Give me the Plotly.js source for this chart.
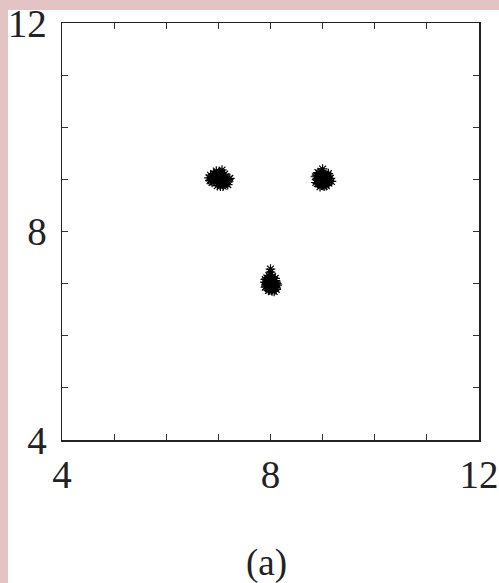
<!DOCTYPE html>
<html>
<head>
<meta charset="utf-8">
<script src="https://cdn.plot.ly/plotly-3.0.1.min.js"></script>
<style>
  html, body { margin: 0; padding: 0; }
  body { width: 499px; height: 583px; overflow: hidden; }
  #chart { width: 499px; height: 583px; }
</style>
</head>
<body>
<div id="chart"></div>
<script>
// Three clusters of samples: around (7, 9), (9, 9) and (8, 7)
const clusterAx = [7.00, 6.95, 7.05, 6.90, 7.10, 6.85, 7.15, 7.02, 6.98, 7.08, 6.92, 7.12, 6.88, 7.20, 6.82, 7.04,
                   6.96, 7.06, 6.94, 7.18, 7.00, 7.03, 6.97, 7.09, 6.91, 7.14, 6.86, 7.01, 6.99, 7.22, 6.84, 7.07,
                   7.11, 6.93, 7.05, 6.89];
const clusterAy = [9.00, 9.05, 8.95, 9.02, 8.98, 9.08, 8.92, 9.12, 8.88, 9.04, 8.96, 9.10, 8.94, 9.00, 9.03, 8.87,
                   9.16, 8.93, 9.07, 8.90, 9.03, 9.01, 8.99, 8.87, 9.11, 9.05, 8.97, 8.93, 9.06, 9.02, 8.98, 9.18,
                   8.91, 9.09, 9.13, 9.01];

const clusterBx = [9.00, 8.96, 9.04, 8.92, 9.08, 8.88, 9.12, 9.02, 8.98, 9.06, 8.94, 9.10, 8.90, 9.15, 8.86, 9.03,
                   8.97, 9.05, 8.95, 9.13, 9.00, 9.01, 8.99, 9.07, 8.93, 9.09, 8.87, 8.98, 9.02, 9.17, 8.92, 9.05,
                   8.95, 9.11, 9.03, 8.91];
const clusterBy = [9.00, 9.04, 8.96, 9.01, 8.99, 9.07, 8.93, 9.10, 8.89, 9.03, 8.95, 9.08, 8.92, 9.02, 9.05, 8.87,
                   9.14, 8.91, 9.06, 8.97, 9.20, 9.00, 8.98, 8.88, 9.12, 9.04, 8.94, 8.90, 9.09, 8.96, 9.01, 9.06,
                   8.86, 9.11, 8.93, 9.13];

const clusterCx = [8.00, 7.96, 8.04, 7.92, 8.08, 7.90, 8.10, 8.02, 7.98, 8.06, 7.94, 8.09, 7.91, 8.12, 7.89, 8.03,
                   7.97, 8.05, 7.95, 8.11, 8.00, 8.01, 7.99, 8.07, 7.93, 8.08, 7.90, 7.98, 8.02, 8.13, 7.92, 8.04,
                   7.96, 8.00, 8.06, 7.94];
const clusterCy = [7.00, 7.05, 6.95, 7.02, 6.98, 7.08, 6.92, 7.12, 6.88, 7.04, 6.96, 7.10, 6.94, 7.00, 7.03, 6.86,
                   7.15, 6.91, 7.07, 6.89, 7.22, 7.01, 6.99, 6.85, 7.11, 7.06, 6.93, 6.90, 7.09, 6.97, 7.02, 7.13,
                   6.87, 7.28, 6.95, 7.05];

const tickValues = [4, 5, 6, 7, 8, 9, 10, 11, 12];
const tickLabels = ['4', '', '', '', '8', '', '', '', '12'];

const marker = {
  symbol: 'asterisk-open',
  size: 8,
  color: '#000',
  line: { color: '#000', width: 1.2 }
};

const traces = [
  { x: clusterAx, y: clusterAy, type: 'scatter', mode: 'markers', marker: marker, hoverinfo: 'x+y' },
  { x: clusterBx, y: clusterBy, type: 'scatter', mode: 'markers', marker: marker, hoverinfo: 'x+y' },
  { x: clusterCx, y: clusterCy, type: 'scatter', mode: 'markers', marker: marker, hoverinfo: 'x+y' }
];

const serif = 'Liberation Serif, Times New Roman, serif';

const axisCommon = {
  range: [4, 12],
  tickmode: 'array',
  tickvals: tickValues,
  ticktext: tickLabels,
  ticks: 'inside',
  ticklen: 6,
  tickwidth: 1,
  tickcolor: '#333',
  showline: true,
  linecolor: '#222',
  linewidth: 1.5,
  mirror: 'ticks',
  showgrid: false,
  zeroline: false,
  ticklabeloverflow: 'allow',
  tickfont: { family: serif, size: 39, color: '#222' }
};

const layout = {
  width: 499,
  height: 583,
  margin: { l: 62, r: 20, t: 23, b: 143 },
  paper_bgcolor: '#e4c3c5',
  plot_bgcolor: '#ffffff',
  showlegend: false,
  xaxis: Object.assign({}, axisCommon, { ticklabelstandoff: 0 }),
  yaxis: Object.assign({}, axisCommon, { ticklabelstandoff: 6 }),
  // white page panel behind the axes, leaving a pink margin on the left and top
  shapes: [{
    type: 'rect',
    xref: 'paper', yref: 'paper',
    x0: -0.1295, x1: 1.2,
    y0: -0.5, y1: 1.031,
    fillcolor: '#ffffff',
    line: { width: 0 },
    layer: 'below'
  }],
  annotations: [{
    text: '(a)',
    xref: 'paper', yref: 'paper',
    x: 0.49, y: -0.295,
    xanchor: 'center', yanchor: 'middle',
    showarrow: false,
    font: { family: serif, size: 37, color: '#222' }
  }]
};

Plotly.newPlot('chart', traces, layout, { displayModeBar: false, staticPlot: true });
</script>
</body>
</html>
